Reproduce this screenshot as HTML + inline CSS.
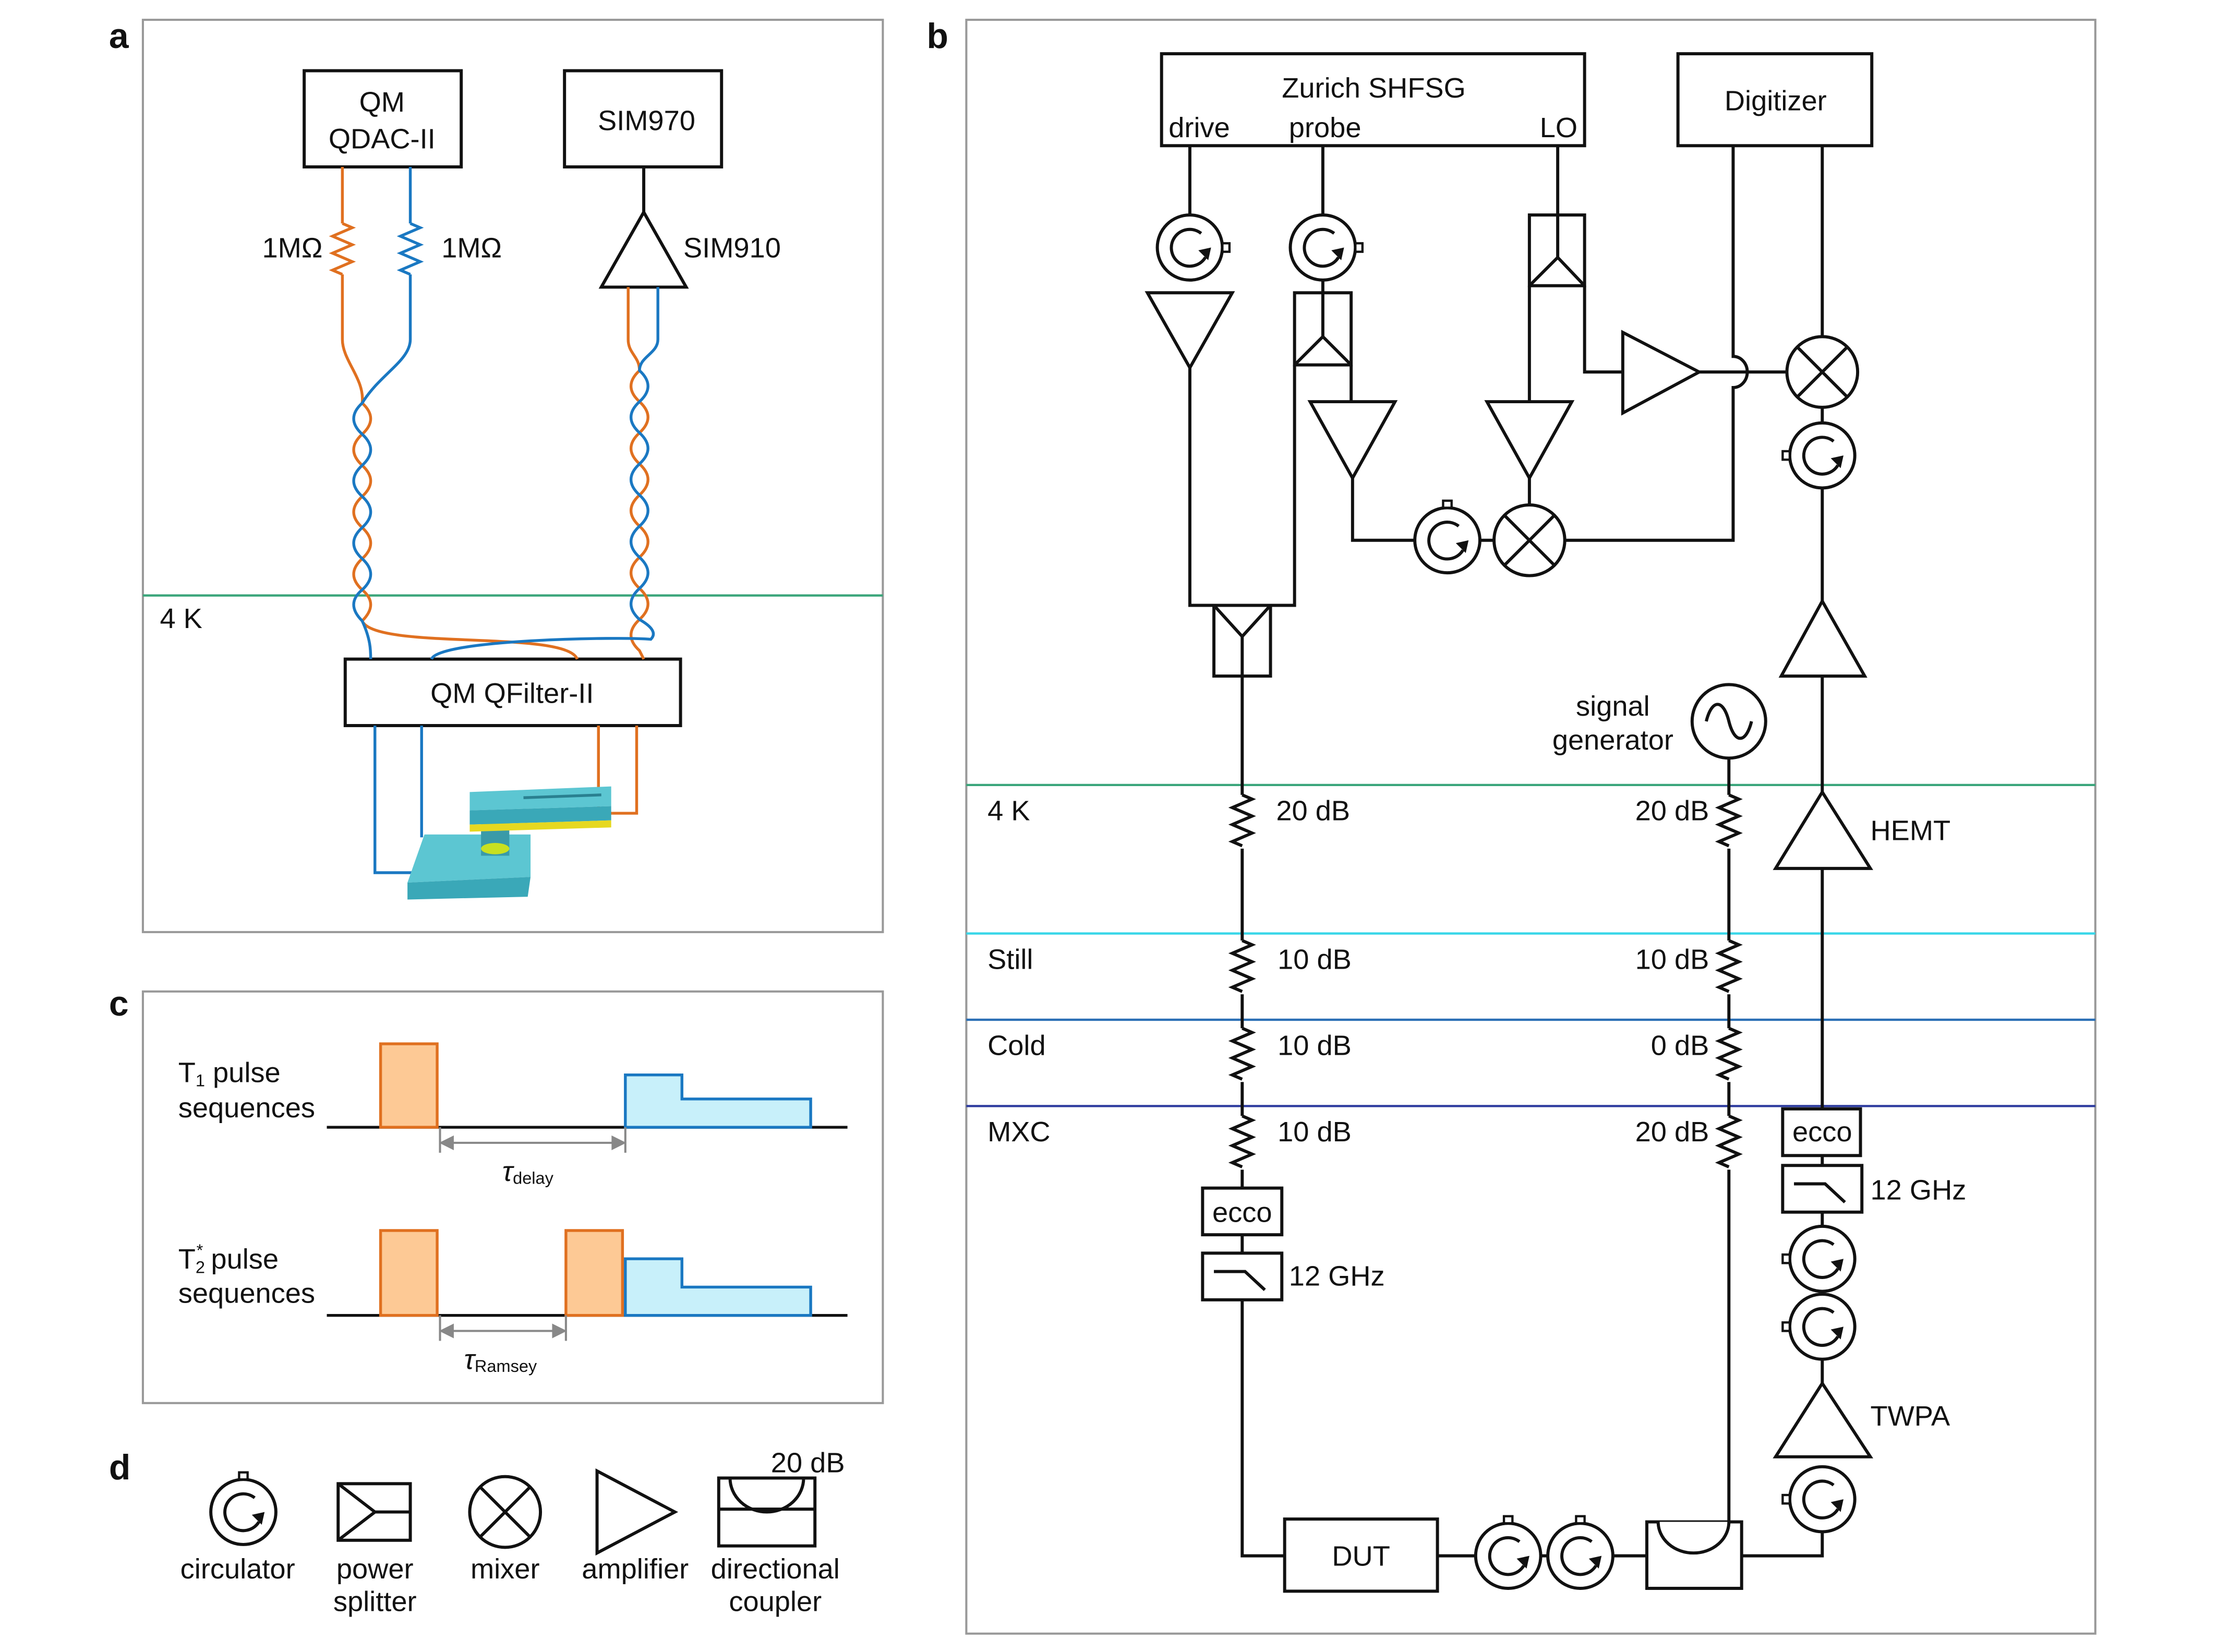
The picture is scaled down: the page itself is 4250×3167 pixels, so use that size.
<!DOCTYPE html>
<html><head><meta charset="utf-8"><style>
html,body{margin:0;padding:0;background:#fff}
svg{display:block}
text{font-family:"Liberation Sans",Arial,sans-serif;font-size:20px;fill:#111}
.b{font-weight:bold;font-size:25px}
</style></head><body>
<svg width="4250" height="3167" viewBox="0 0 1567 1168" preserveAspectRatio="none" xmlns="http://www.w3.org/2000/svg">
<defs>
<g id="circ"><circle cx="0" cy="0" r="23" fill="#fff" stroke="#111" stroke-width="2.2"/><path d="M8,-10 A13,13 0 1 0 11,7" fill="none" stroke="#111" stroke-width="2.2"/><path d="M6,2 L13,9 L15,0 Z" fill="#111"/></g>
<g id="circR"><use href="#circ"/><rect x="23" y="-3" width="5" height="6" fill="#fff" stroke="#111" stroke-width="1.6"/></g>
<g id="circL"><use href="#circ"/><rect x="-28" y="-3" width="5" height="6" fill="#fff" stroke="#111" stroke-width="1.6"/></g>
<g id="circT"><use href="#circ"/><rect x="-3" y="-28" width="6" height="5" fill="#fff" stroke="#111" stroke-width="1.6"/></g>
<g id="mix"><circle r="25" fill="#fff" stroke="#111" stroke-width="2.2"/><path d="M-17.7,-17.7 L17.7,17.7 M17.7,-17.7 L-17.7,17.7" stroke="#111" stroke-width="2.2"/></g>
<path id="res" d="M0,0 l7,3 l-14,6 l14,6 l-14,6 l14,6 l-14,6 l7,3" fill="none" stroke="#111" stroke-width="2.2"/>
<g id="filt"><rect x="0" y="0" width="56" height="33" fill="#fff" stroke="#111" stroke-width="2.2"/><path d="M8,13 L30,13 L44,26" fill="none" stroke="#111" stroke-width="2.2"/></g>
</defs>

<g fill="none" stroke="#999" stroke-width="1.5">
<rect x="101" y="14" width="523" height="645"/>
<rect x="101" y="701" width="523" height="291"/>
<rect x="683" y="14" width="798" height="1141"/>
</g>
<text class="b" x="77" y="34">a</text>
<text class="b" x="655" y="34">b</text>
<text class="b" x="77" y="718">c</text>
<text class="b" x="77" y="1046">d</text>

<g stroke="#111" stroke-width="2.2" fill="#fff">
<rect x="215" y="50" width="111" height="68"/>
<rect x="399" y="50" width="111" height="68"/>
<rect x="244" y="466" width="237" height="47"/>
<line x1="455" y1="118" x2="455" y2="150"/>
<path d="M455,150 L425,203 L485,203 Z"/>
</g>
<text x="270" y="79" text-anchor="middle">QM</text>
<text x="270" y="105" text-anchor="middle">QDAC-II</text>
<text x="457" y="92" text-anchor="middle">SIM970</text>
<text x="483" y="182">SIM910</text>
<text x="362" y="497" text-anchor="middle">QM QFilter-II</text>
<text x="228" y="182" text-anchor="end">1MΩ</text>
<text x="312" y="182">1MΩ</text>
<line x1="101" y1="421" x2="624" y2="421" stroke="#3aa57a" stroke-width="1.6"/>
<text x="113" y="444">4 K</text>

<g fill="none" stroke-width="2">
<path stroke="#e07020" d="M242,118 L242,158 M242,194 L242,240 C242,255 258,268 256,285 q12,11 0,22 t0,22 t0,22 t0,22 t0,22 t0,22 q12,10 0,22 C265,460 400,445 408,466"/>
<path stroke="#e07020" d="M242,158 l7,3 l-14,6 l14,6 l-14,6 l14,6 l-14,6 l7,3"/>
<path stroke="#1a78c2" d="M290,118 L290,158 M290,194 L290,240 C290,255 268,265 256,285 q-12,11 0,22 t0,22 t0,22 t0,22 t0,22 t0,22 q-12,10 0,22 C262,452 262,460 262,466"/>
<path stroke="#1a78c2" d="M290,158 l7,3 l-14,6 l14,6 l-14,6 l14,6 l-14,6 l7,3"/>
<path stroke="#e07020" d="M444,203 L444,240 C444,250 452,252 452,262 q-12,11 0,22 t0,22 t0,22 t0,22 t0,22 t0,22 t0,22 t0,22 q-12,11 0,22 L455,466"/>
<path stroke="#1a78c2" d="M465,203 L465,240 C465,250 452,252 452,262 q12,11 0,22 t0,22 t0,22 t0,22 t0,22 t0,22 t0,22 t0,22 q14,8 8,14 C440,450 310,452 305,466"/>
<path stroke="#1a78c2" d="M265,513 L265,617 L292,617"/>
<path stroke="#1a78c2" d="M298,513 L298,592"/>
<path stroke="#e07020" d="M423,513 L423,575 L433,575"/>
<path stroke="#e07020" d="M450,513 L450,575 L433,575"/>
</g>
<g>
<polygon points="300,590 375,590 375,620 288,624" fill="#5cc6d2"/>
<polygon points="288,624 375,620 373,634 288,636" fill="#3aa8b8"/>
<rect x="340" y="580" width="20" height="25" fill="#3a9aa8"/>
<ellipse cx="350" cy="600" rx="10" ry="4" fill="#c8e020"/>
<polygon points="332,560 432,556 432,570 332,573" fill="#5cc6d2"/>
<polygon points="332,573 432,570 432,580 332,583" fill="#3aa8b8"/>
<polygon points="332,583 432,580 432,585 332,588" fill="#e6d820"/>
<line x1="370" y1="564" x2="425" y2="562" stroke="#2a8090" stroke-width="2"/>
</g>

<g stroke-width="2">
<line x1="231" y1="797" x2="599" y2="797" stroke="#111"/>
<rect x="269" y="738" width="40" height="59" fill="#fdc995" stroke="#e07020"/>
<polygon points="442,797 442,760 482,760 482,777 573,777 573,797" fill="#c8f0fa" stroke="#1a78c2"/>
<line x1="231" y1="930" x2="599" y2="930" stroke="#111"/>
<rect x="269" y="870" width="40" height="60" fill="#fdc995" stroke="#e07020"/>
<rect x="400" y="870" width="40" height="60" fill="#fdc995" stroke="#e07020"/>
<polygon points="442,930 442,890 482,890 482,910 573,910 573,930" fill="#c8f0fa" stroke="#1a78c2"/>
</g>
<g stroke="#888" stroke-width="1.5" fill="#888">
<line x1="311" y1="797" x2="311" y2="815"/><line x1="442" y1="797" x2="442" y2="815"/>
<line x1="316" y1="808" x2="437" y2="808"/>
<path d="M312,808 l8,-4 v8 Z M441,808 l-8,-4 v8 Z"/>
<line x1="311" y1="930" x2="311" y2="948"/><line x1="400" y1="930" x2="400" y2="948"/>
<line x1="316" y1="941" x2="395" y2="941"/>
<path d="M312,941 l8,-4 v8 Z M399,941 l-8,-4 v8 Z"/>
</g>
<text x="126" y="765">T<tspan font-size="12" dy="3">1</tspan><tspan dy="-3"> pulse</tspan></text>
<text x="126" y="790">sequences</text>
<text x="126" y="897">T<tspan font-size="12" dy="3">2</tspan><tspan font-size="12" dy="-12" dx="-6">*</tspan><tspan dy="9"> pulse</tspan></text>
<text x="126" y="921">sequences</text>
<text x="355" y="835" font-family="Liberation Serif" font-style="italic" font-size="24">τ<tspan font-style="normal" font-family="Liberation Sans" font-size="12" dy="2">delay</tspan></text>
<text x="328" y="968" font-family="Liberation Serif" font-style="italic" font-size="24">τ<tspan font-style="normal" font-family="Liberation Sans" font-size="12" dy="2">Ramsey</tspan></text>

<use href="#circT" x="172" y="1069"/>
<g stroke="#111" stroke-width="2.2" fill="#fff">
<rect x="239" y="1049" width="51" height="40"/>
<path d="M239,1049 L265,1069 L239,1089 M265,1069 L290,1069" fill="none"/>
<path d="M422,1040 L422,1098 L477,1069 Z"/>
<rect x="508" y="1045" width="68" height="48"/>
<line x1="508" y1="1067" x2="576" y2="1067"/>
<path d="M516,1045 A26,24 0 0 0 568,1045" fill="none"/>
</g>
<use href="#mix" x="357" y="1069"/>
<text x="168" y="1116" text-anchor="middle">circulator</text>
<text x="265" y="1116" text-anchor="middle">power</text>
<text x="265" y="1139" text-anchor="middle">splitter</text>
<text x="357" y="1116" text-anchor="middle">mixer</text>
<text x="449" y="1116" text-anchor="middle">amplifier</text>
<text x="548" y="1116" text-anchor="middle">directional</text>
<text x="548" y="1139" text-anchor="middle">coupler</text>
<text x="571" y="1041" text-anchor="middle">20 dB</text>

<g stroke-width="1.6">
<line x1="683" y1="555" x2="1481" y2="555" stroke="#3aa57a"/>
<line x1="683" y1="660" x2="1481" y2="660" stroke="#38d6e8"/>
<line x1="683" y1="721" x2="1481" y2="721" stroke="#2a6fb5"/>
<line x1="683" y1="782" x2="1481" y2="782" stroke="#2c3a9e"/>
</g>
<text x="698" y="580">4 K</text>
<text x="698" y="685">Still</text>
<text x="698" y="746">Cold</text>
<text x="698" y="807">MXC</text>

<g stroke="#111" stroke-width="2.2" fill="none">
<rect x="821" y="38" width="299" height="65" fill="#fff"/>
<rect x="1186" y="38" width="137" height="65" fill="#fff"/>
<line x1="841" y1="103" x2="841" y2="152"/>
<path d="M811,207 L871,207 L841,260 Z" fill="#fff"/>
<path d="M841,260 L841,428 L858,428"/>
<path d="M915,258 L915,428 L898,428"/>
<rect x="858" y="428" width="40" height="50" fill="#fff"/>
<path d="M858,428 L878,450 L898,428 M878,450 L878,478"/>
<line x1="935" y1="103" x2="935" y2="152"/>
<rect x="915" y="207" width="40" height="51" fill="#fff"/>
<path d="M935,198 L935,238 M915,258 L935,238 L955,258"/>
<path d="M955,258 L955,284"/>
<path d="M926,284 L986,284 L956,338 Z" fill="#fff"/>
<path d="M956,338 L956,382 L1000,382"/>
<line x1="1046" y1="382" x2="1056" y2="382"/>
<line x1="1101" y1="103" x2="1101" y2="152"/>
<rect x="1081" y="152" width="39" height="50" fill="#fff"/>
<path d="M1101,152 L1101,182 M1081,202 L1101,182 L1120,202"/>
<path d="M1081,202 L1081,284"/>
<path d="M1051,284 L1111,284 L1081,338 Z" fill="#fff"/>
<line x1="1081" y1="338" x2="1081" y2="357"/>
<path d="M1120,202 L1120,263 L1147,263"/>
<path d="M1147,235 L1147,292 L1201,263 Z" fill="#fff"/>
<path d="M1201,263 L1262,263"/>
<path d="M1225,103 L1225,252 A10,11 0 0 1 1225,274 L1225,382 L1106,382"/>
<line x1="1288" y1="103" x2="1288" y2="238"/>
<line x1="1288" y1="288" x2="1288" y2="299"/>
<line x1="1288" y1="345" x2="1288" y2="425"/>
<path d="M1288,425 L1259,478 L1318,478 Z" fill="#fff"/>
<line x1="1288" y1="478" x2="1288" y2="560"/>
<path d="M1288,560 L1255,614 L1322,614 Z" fill="#fff"/>
<line x1="1288" y1="614" x2="1288" y2="784"/>
<rect x="1260" y="784" width="55" height="33" fill="#fff"/>
<line x1="1288" y1="817" x2="1288" y2="824"/>
<line x1="1288" y1="857" x2="1288" y2="978"/>
<path d="M1288,978 L1255,1030 L1322,1030 Z" fill="#fff"/>
<path d="M1288,1083 L1288,1100 L1231,1100"/>
<path d="M878,478 L878,562 M878,600 L878,665 M878,703 L878,727 M878,765 L878,789 M878,827 L878,840"/>
<rect x="850" y="840" width="56" height="33" fill="#fff"/>
<path d="M878,873 L878,886 M878,919 L878,1100 L908,1100"/>
<rect x="908" y="1074" width="108" height="51" fill="#fff"/>
<path d="M1016,1100 L1043,1100 M1089,1100 L1094,1100 M1140,1100 L1164,1100"/>
<rect x="1164" y="1076" width="67" height="47" fill="#fff"/>
<path d="M1172,1076 A25,22 0 0 0 1222,1076" fill="#fff"/>
<path d="M1222,536 L1222,562 M1222,600 L1222,665 M1222,703 L1222,727 M1222,765 L1222,789 M1222,827 L1222,1076"/>
<circle cx="1222" cy="510" r="26" fill="#fff"/>
<path d="M1206,510 C1210,494 1218,494 1222,510 C1226,526 1234,526 1238,510"/>
</g>
<g>
<use href="#res" x="878" y="562"/><use href="#res" x="878" y="665"/><use href="#res" x="878" y="727"/><use href="#res" x="878" y="789"/>
<use href="#res" x="1222" y="562"/><use href="#res" x="1222" y="665"/><use href="#res" x="1222" y="727"/><use href="#res" x="1222" y="789"/>
</g>
<use href="#filt" x="850" y="886"/>
<use href="#filt" x="1260" y="824"/>
<use href="#circR" x="841" y="175"/>
<use href="#circR" x="935" y="175"/>
<use href="#circT" x="1023" y="382"/>
<use href="#mix" x="1081" y="382"/>
<use href="#mix" x="1288" y="263"/>
<use href="#circL" x="1288" y="322"/>
<use href="#circL" x="1288" y="890"/>
<use href="#circL" x="1288" y="938"/>
<use href="#circL" x="1288" y="1060"/>
<use href="#circT" x="1066" y="1100"/>
<use href="#circT" x="1117" y="1100"/>

<text x="971" y="69" text-anchor="middle">Zurich SHFSG</text>
<text x="826" y="97">drive</text>
<text x="911" y="97">probe</text>
<text x="1115" y="97" text-anchor="end">LO</text>
<text x="1255" y="78" text-anchor="middle">Digitizer</text>
<text x="1140" y="506" text-anchor="middle">signal</text>
<text x="1140" y="530" text-anchor="middle">generator</text>
<text x="1322" y="594">HEMT</text>
<text x="1322" y="1008">TWPA</text>
<text x="1322" y="848">12 GHz</text>
<text x="911" y="909">12 GHz</text>
<text x="1288" y="807" text-anchor="middle">ecco</text>
<text x="878" y="864" text-anchor="middle">ecco</text>
<text x="962" y="1107" text-anchor="middle">DUT</text>
<text x="902" y="580">20 dB</text>
<text x="903" y="685">10 dB</text>
<text x="903" y="746">10 dB</text>
<text x="903" y="807">10 dB</text>
<text x="1208" y="580" text-anchor="end">20 dB</text>
<text x="1208" y="685" text-anchor="end">10 dB</text>
<text x="1208" y="746" text-anchor="end">0 dB</text>
<text x="1208" y="807" text-anchor="end">20 dB</text>
</svg>
</body></html>
